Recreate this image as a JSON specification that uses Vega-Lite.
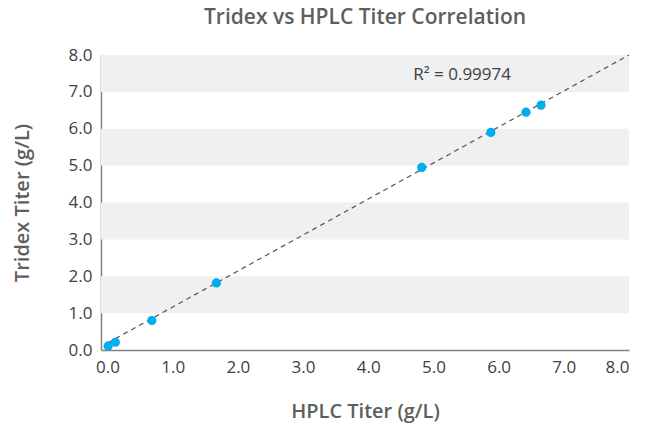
{
  "$schema": "https://vega.github.io/schema/vega-lite/v6.json",
  "width": 528,
  "height": 295,
  "autosize": "none",
  "padding": {"left": 101, "top": 55, "right": 25, "bottom": 79},
  "background": "white",
  "config": {"view": {"stroke": null}, "font": "Open Sans"},
  "title": {
    "text": "Tridex vs HPLC Titer Correlation",
    "fontSize": 21,
    "fontWeight": 600,
    "color": "#5e5e5e",
    "font": "Open Sans",
    "offset": 18
  },
  "datasets": {
    "bands": [
      {"lo": 1, "hi": 2},
      {"lo": 3, "hi": 4},
      {"lo": 5, "hi": 6},
      {"lo": 7, "hi": 8}
    ],
    "pts": [
      {"hplc": 0.01, "tridex": 0.11},
      {"hplc": 0.12, "tridex": 0.21},
      {"hplc": 0.68, "tridex": 0.80},
      {"hplc": 1.67, "tridex": 1.82},
      {"hplc": 4.82, "tridex": 4.95},
      {"hplc": 5.88, "tridex": 5.90},
      {"hplc": 6.42, "tridex": 6.45},
      {"hplc": 6.65, "tridex": 6.64}
    ],
    "fit": [
      {"hplc": 0, "tridex": 0.19},
      {"hplc": 8, "tridex": 8.0}
    ],
    "note": [
      {"hplc": 5.44, "tridex": 7.47, "label": "R² = 0.99974"}
    ]
  },
  "encoding": {
    "x": {
      "field": "hplc",
      "type": "quantitative",
      "scale": {"domain": [-0.1, 8], "nice": false, "zero": false},
      "axis": {
        "title": "HPLC Titer (g/L)",
        "values": [0, 1, 2, 3, 4, 5, 6, 7, 8],
        "format": ".1f",
        "grid": false,
        "ticks": false,
        "domainColor": "#808080",
        "domainWidth": 1.5,
        "labelFontSize": 17,
        "labelColor": "#404040",
        "labelPadding": 9,
        "labelFont": "Open Sans",
        "titleFont": "Open Sans",
        "titleFontSize": 20,
        "titleFontWeight": 600,
        "titleColor": "#5e5e5e",
        "titlePadding": 26
      }
    },
    "y": {
      "field": "tridex",
      "type": "quantitative",
      "scale": {"domain": [0, 8], "nice": false},
      "axis": {
        "title": "Tridex Titer (g/L)",
        "values": [0, 1, 2, 3, 4, 5, 6, 7, 8],
        "format": ".1f",
        "grid": false,
        "ticks": false,
        "domainColor": "#808080",
        "domainWidth": 1.5,
        "labelFontSize": 17,
        "labelColor": "#404040",
        "labelPadding": 9,
        "labelFont": "Open Sans",
        "titleFont": "Open Sans",
        "titleFontSize": 20,
        "titleFontWeight": 600,
        "titleColor": "#5e5e5e",
        "titlePadding": 36
      }
    }
  },
  "layer": [
    {
      "data": {"name": "bands"},
      "mark": {"type": "rect", "color": "#eff0f2"},
      "encoding": {
        "x": {"value": 0},
        "x2": {"value": "width"},
        "y": {"field": "lo", "type": "quantitative"},
        "y2": {"field": "hi"}
      }
    },
    {
      "data": {"name": "fit"},
      "mark": {"type": "line", "color": "#555555", "strokeWidth": 1.2, "strokeDash": [5, 4]},
      "encoding": {}
    },
    {
      "data": {"name": "pts"},
      "mark": {"type": "point", "filled": true, "color": "#00aeef", "opacity": 1, "size": 85},
      "encoding": {}
    },
    {
      "data": {"name": "note"},
      "mark": {"type": "text", "fontSize": 17, "color": "#404040", "font": "Open Sans"},
      "encoding": {
        "text": {"field": "label"}
      }
    }
  ]
}
